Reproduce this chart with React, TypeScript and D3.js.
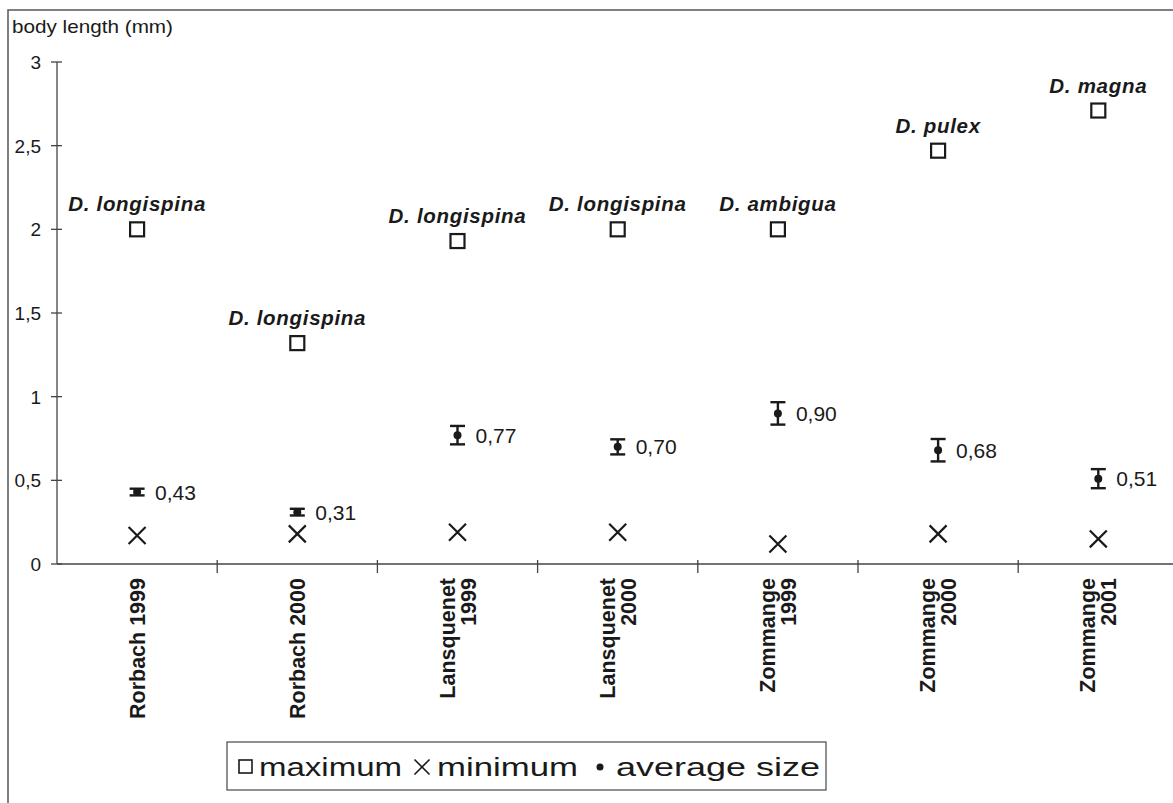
import { useEffect, useRef } from 'react';
import * as d3 from 'd3';

// site / year categories (\n = line break in the rotated label)
const categories = [
  'Rorbach 1999',
  'Rorbach 2000',
  'Lansquenet\n1999',
  'Lansquenet\n2000',
  'Zommange\n1999',
  'Zommange\n2000',
  'Zommange\n2001',
];
const species = [
  'D. longispina',
  'D. longispina',
  'D. longispina',
  'D. longispina',
  'D. ambigua',
  'D. pulex',
  'D. magna',
];
const maximum = [2.0, 1.32, 1.93, 2.0, 2.0, 2.47, 2.71];
const minimum = [0.17, 0.18, 0.19, 0.19, 0.12, 0.18, 0.15];
const average = [0.43, 0.31, 0.77, 0.7, 0.9, 0.68, 0.51];
const averageErr = [0.02, 0.02, 0.055, 0.045, 0.067, 0.067, 0.057];
const yTicks = [0, 0.5, 1, 1.5, 2, 2.5, 3];

const FONT = '"Liberation Sans", Arial, sans-serif';
const INK = '#1a1a1a';

const App = () => {
  const svgRef = useRef<SVGSVGElement>(null);

  useEffect(() => {
    if (!svgRef.current) return;
    const width = 1173;
    const height = 803;
    const x0 = 57;
    const bandW = 160.2;

    const comma = d3.formatLocale({
      decimal: ',',
      thousands: '.',
      grouping: [3],
      currency: ['', ''],
    });
    const tickFmt = comma.format('~g');
    const valFmt = comma.format('.2f');

    d3.select(svgRef.current).selectAll('*').remove();
    const svg = d3
      .select(svgRef.current)
      .attr('width', width)
      .attr('height', height)
      .style('font-family', FONT);

    svg
      .append('rect')
      .attr('width', width)
      .attr('height', height)
      .attr('fill', '#fff');

    // outer frame (cropped on right/bottom)
    svg
      .append('rect')
      .attr('x', 8)
      .attr('y', 10)
      .attr('width', width + 20)
      .attr('height', height + 20)
      .attr('fill', 'none')
      .attr('stroke', '#555')
      .attr('stroke-width', 1.5);

    const x = d3
      .scaleBand<string>()
      .domain(categories)
      .range([x0, x0 + bandW * categories.length])
      .padding(0);
    const cx = (c: string) => (x(c) ?? 0) + x.bandwidth() / 2;

    const y = d3.scaleLinear().domain([0, 3]).range([564, 62]);

    // y axis
    const yAxis = svg.append('g').attr('stroke', '#444').attr('stroke-width', 1.3);
    yAxis.append('line').attr('x1', x0).attr('x2', x0).attr('y1', y(3)).attr('y2', y(0));
    yAxis
      .selectAll('line.tick')
      .data(yTicks)
      .enter()
      .append('line')
      .attr('class', 'tick')
      .attr('x1', x0 - 6)
      .attr('x2', x0 + 5)
      .attr('y1', (d) => y(d))
      .attr('y2', (d) => y(d));

    svg
      .append('g')
      .selectAll('text')
      .data(yTicks)
      .enter()
      .append('text')
      .attr('x', 41)
      .attr('y', (d) => y(d) + 7)
      .attr('text-anchor', 'end')
      .attr('font-size', 19)
      .attr('fill', INK)
      .text((d) => tickFmt(d));

    svg
      .append('text')
      .attr('x', 12)
      .attr('y', 33)
      .attr('font-size', 19)
      .attr('fill', INK)
      .attr('textLength', 161)
      .attr('lengthAdjust', 'spacingAndGlyphs')
      .text('body length (mm)');

    // x axis
    const xAxis = svg.append('g').attr('stroke', '#444').attr('stroke-width', 1.3);
    xAxis.append('line').attr('x1', x0).attr('x2', width + 10).attr('y1', y(0)).attr('y2', y(0));
    xAxis
      .selectAll('line.tick')
      .data(categories.slice(1))
      .enter()
      .append('line')
      .attr('class', 'tick')
      .attr('x1', (d) => x(d) ?? 0)
      .attr('x2', (d) => x(d) ?? 0)
      .attr('y1', y(0) - 4)
      .attr('y2', y(0) + 9);

    // rotated category labels
    const lineH = 21;
    const catG = svg
      .append('g')
      .selectAll('g')
      .data(categories)
      .enter()
      .append('g')
      .attr('transform', (d) => `translate(${cx(d)},578) rotate(-90)`);
    catG.each(function (d) {
      const lines = d.split('\n');
      const g = d3.select(this);
      lines.forEach((ln, i) => {
        g.append('text')
          .attr('x', 0)
          .attr('y', (i - (lines.length - 1) / 2) * lineH + 7.5)
          .attr('text-anchor', 'end')
          .attr('font-size', 21.5)
          .attr('font-weight', 'bold')
          .attr('fill', INK)
          .text(ln);
      });
    });

    const idx = d3.range(categories.length);

    // maximum squares
    svg
      .append('g')
      .selectAll('rect')
      .data(idx)
      .enter()
      .append('rect')
      .attr('x', (i) => cx(categories[i]) - 7)
      .attr('y', (i) => y(maximum[i]) - 7)
      .attr('width', 14)
      .attr('height', 14)
      .attr('fill', '#fff')
      .attr('stroke', INK)
      .attr('stroke-width', 2.2);

    // species labels
    svg
      .append('g')
      .selectAll('text')
      .data(idx)
      .enter()
      .append('text')
      .attr('x', (i) => cx(categories[i]))
      .attr('y', (i) => y(maximum[i]) - 18)
      .attr('text-anchor', 'middle')
      .attr('font-size', 20.5)
      .attr('font-weight', 'bold')
      .attr('font-style', 'italic')
      .attr('letter-spacing', 0.7)
      .attr('fill', INK)
      .text((i) => species[i]);

    // minimum crosses
    const cross = d3.symbol().type(d3.symbolX).size(190);
    svg
      .append('g')
      .selectAll('path')
      .data(idx)
      .enter()
      .append('path')
      .attr('d', cross)
      .attr('transform', (i) => `translate(${cx(categories[i])},${y(minimum[i])})`)
      .attr('fill', 'none')
      .attr('stroke', INK)
      .attr('stroke-width', 2.2);

    // average with error bars
    const avgG = svg
      .append('g')
      .selectAll('g')
      .data(idx)
      .enter()
      .append('g')
      .attr('stroke', INK)
      .attr('stroke-width', 2.4);
    avgG
      .append('line')
      .attr('x1', (i) => cx(categories[i]))
      .attr('x2', (i) => cx(categories[i]))
      .attr('y1', (i) => y(average[i] + averageErr[i]))
      .attr('y2', (i) => y(average[i] - averageErr[i]));
    [1, -1].forEach((s) => {
      avgG
        .append('line')
        .attr('x1', (i) => cx(categories[i]) - 7.5)
        .attr('x2', (i) => cx(categories[i]) + 7.5)
        .attr('y1', (i) => y(average[i] + s * averageErr[i]))
        .attr('y2', (i) => y(average[i] + s * averageErr[i]));
    });
    avgG
      .append('circle')
      .attr('cx', (i) => cx(categories[i]))
      .attr('cy', (i) => y(average[i]))
      .attr('r', 4)
      .attr('fill', INK)
      .attr('stroke', 'none');

    svg
      .append('g')
      .selectAll('text')
      .data(idx)
      .enter()
      .append('text')
      .attr('x', (i) => cx(categories[i]) + 18)
      .attr('y', (i) => y(average[i]) + 7.5)
      .attr('font-size', 21)
      .attr('fill', INK)
      .text((i) => valFmt(average[i]));

    // legend
    const lg = svg.append('g');
    lg.append('rect')
      .attr('x', 227)
      .attr('y', 742)
      .attr('width', 599)
      .attr('height', 48)
      .attr('fill', '#fff')
      .attr('stroke', '#555')
      .attr('stroke-width', 1.3);
    const ly = 767;
    lg.append('rect')
      .attr('x', 239)
      .attr('y', ly - 7)
      .attr('width', 13)
      .attr('height', 13)
      .attr('fill', 'none')
      .attr('stroke', INK)
      .attr('stroke-width', 1.6);
    lg.append('path')
      .attr('d', d3.symbol().type(d3.symbolX).size(150)())
      .attr('transform', `translate(422,${ly})`)
      .attr('fill', 'none')
      .attr('stroke', INK)
      .attr('stroke-width', 1.6);
    lg.append('circle').attr('cx', 600).attr('cy', ly).attr('r', 3.5).attr('fill', INK);
    const legendItems: [string, number, number][] = [
      ['maximum', 259, 143],
      ['minimum', 437, 141],
      ['average size', 616, 204],
    ];
    lg.selectAll('text')
      .data(legendItems)
      .enter()
      .append('text')
      .attr('x', (d) => d[1])
      .attr('y', ly + 9)
      .attr('font-size', 25)
      .attr('fill', INK)
      .attr('textLength', (d) => d[2])
      .attr('lengthAdjust', 'spacingAndGlyphs')
      .text((d) => d[0]);
  }, []);

  return (
    <div style={{ position: 'absolute', left: 0, top: 0 }}>
      <svg ref={svgRef} style={{ display: 'block' }} />
    </div>
  );
};

export default App;
